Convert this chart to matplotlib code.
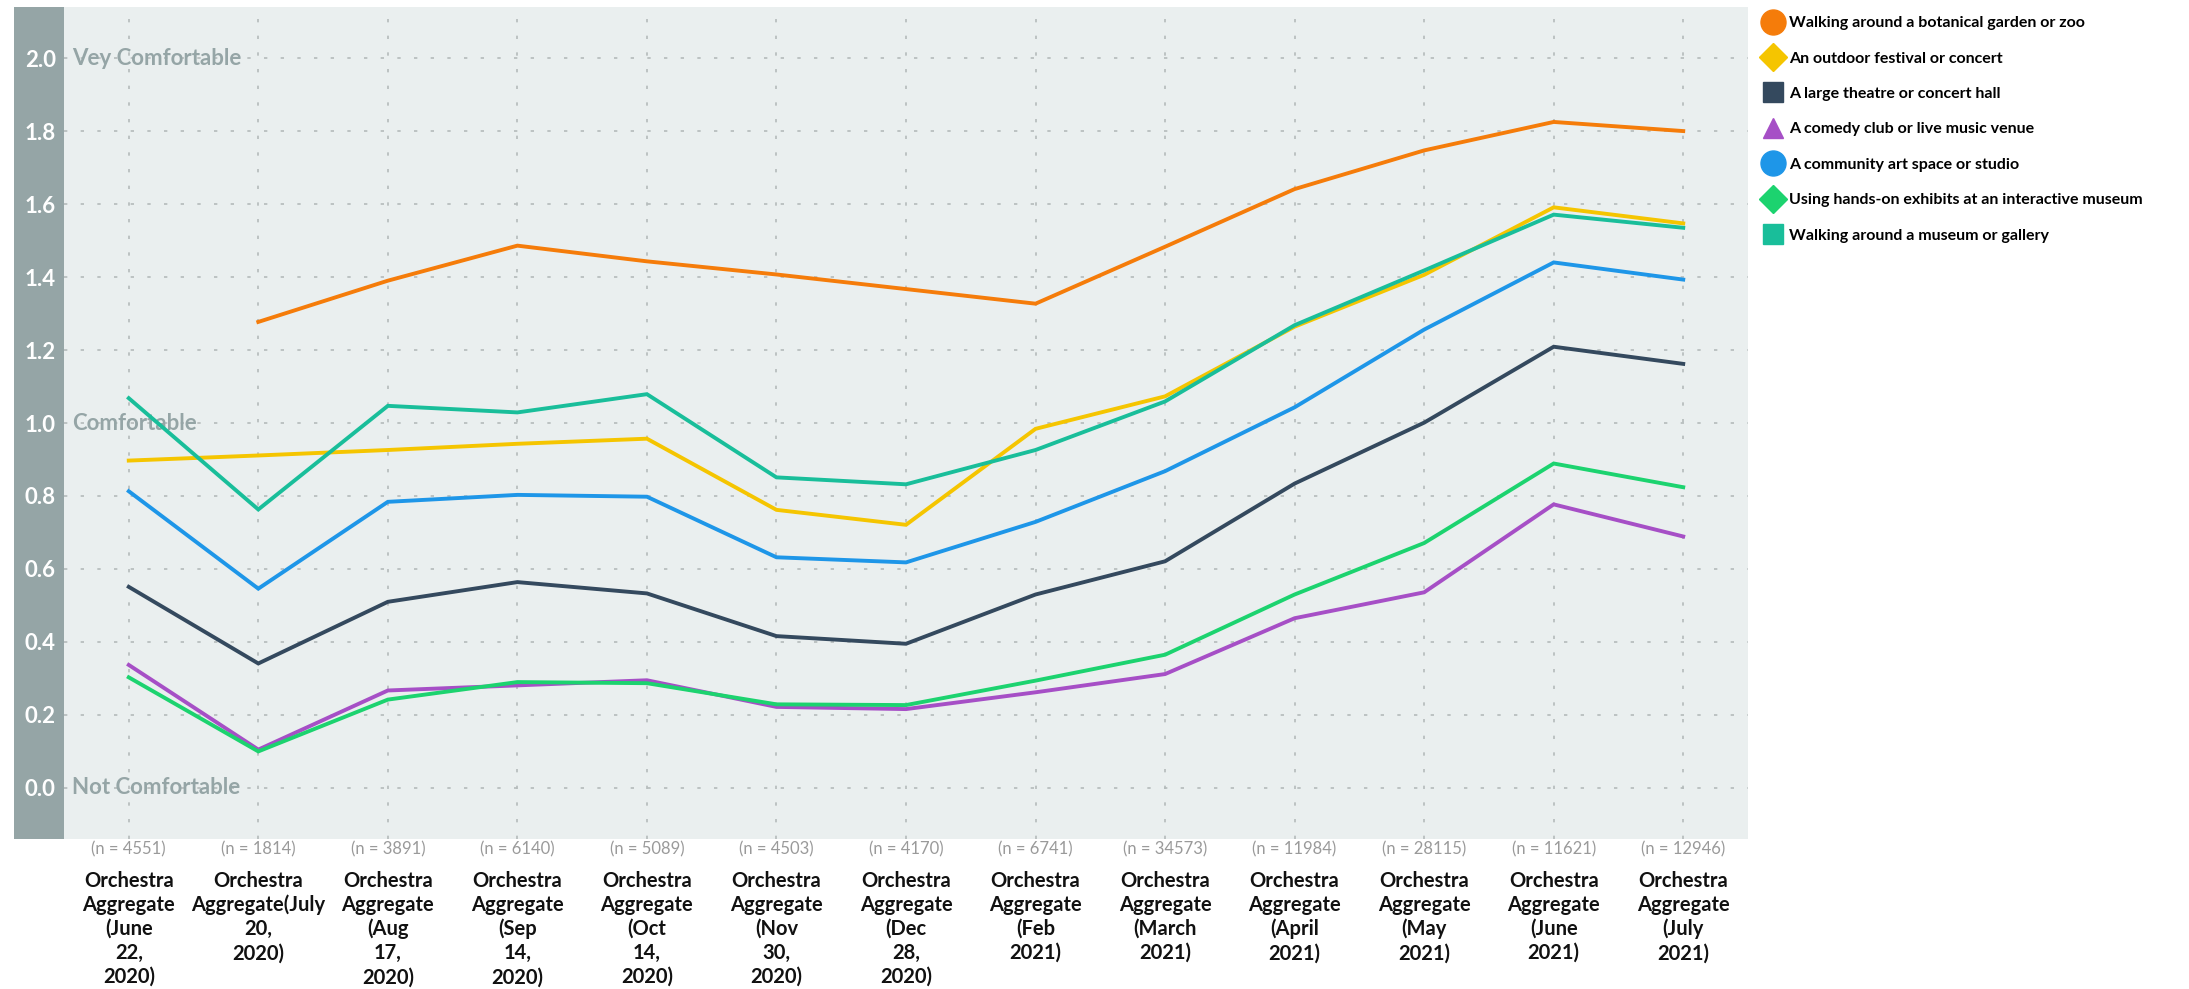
import matplotlib
matplotlib.use("Agg")
import matplotlib.pyplot as plt
from matplotlib.lines import Line2D
from matplotlib.patches import Rectangle
import matplotlib.transforms as mtrans
import numpy as np

plt.rcParams['font.family'] = ['Lato', 'DejaVu Sans']

# x categories
periods = ["Orchestra\nAggregate\n(June\n22,\n2020)", "Orchestra\nAggregate(July\n20,\n2020)",
           "Orchestra\nAggregate\n(Aug\n17,\n2020)", "Orchestra\nAggregate\n(Sep\n14,\n2020)",
           "Orchestra\nAggregate\n(Oct\n14,\n2020)", "Orchestra\nAggregate\n(Nov\n30,\n2020)",
           "Orchestra\nAggregate\n(Dec\n28,\n2020)", "Orchestra\nAggregate\n(Feb\n2021)",
           "Orchestra\nAggregate\n(March\n2021)", "Orchestra\nAggregate\n(April\n2021)",
           "Orchestra\nAggregate\n(May\n2021)", "Orchestra\nAggregate\n(June\n2021)",
           "Orchestra\nAggregate\n(July\n2021)"]
n_sizes = [4551, 1814, 3891, 6140, 5089, 4503, 4170, 6741, 34573, 11984, 28115, 11621, 12946]

# series (None = no data)
botanical = [None, 1.277, 1.39, 1.486, 1.443, 1.407, 1.367, 1.327, 1.483, 1.641, 1.747, 1.825, 1.80]
outdoor = [0.897, 0.911, 0.926, 0.943, 0.957, 0.762, 0.721, 0.984, 1.073, 1.264, 1.406, 1.591, 1.547]
theatre = [0.551, 0.341, 0.510, 0.564, 0.533, 0.416, 0.395, 0.530, 0.621, 0.834, 1.001, 1.209, 1.162]
comedy = [0.337, 0.105, 0.267, 0.281, 0.295, 0.222, 0.216, 0.262, 0.312, 0.465, 0.536, 0.777, 0.689]
community = [0.813, 0.546, 0.784, 0.803, 0.798, 0.632, 0.618, 0.729, 0.868, 1.043, 1.256, 1.440, 1.393]
handson = [0.303, 0.100, 0.242, 0.290, 0.287, 0.229, 0.227, 0.294, 0.365, 0.530, 0.671, 0.889, 0.824]
museum = [1.068, 0.763, 1.047, 1.029, 1.079, 0.851, 0.832, 0.926, 1.059, 1.268, 1.418, 1.571, 1.535]

series_names = ["Walking around a botanical garden or zoo", "An outdoor festival or concert",
                "A large theatre or concert hall", "A comedy club or live music venue",
                "A community art space or studio", "Using hands-on exhibits at an interactive museum",
                "Walking around a museum or gallery"]
series_vals = [botanical, outdoor, theatre, comedy, community, handson, museum]
colors = ['#F57C0A', '#F5C500', '#34495E', '#A64FC6', '#1E96E8', '#1CD36F', '#19BE9A']
markers = ['o', 'D', 's', '^', 'o', 'D', 's']
msizes = [18, 14, 14, 15, 18, 14, 14]

levels = [(2.0, 'Vey Comfortable'), (1.0, 'Comfortable'), (0.0, 'Not Comfortable')]

W, H = 2189, 989
fig = plt.figure(figsize=(W / 100, H / 100), dpi=100)
ax = fig.add_axes([64 / W, 1 - 839 / H, (1748 - 64) / W, (839 - 7) / H])
ax.set_facecolor('#EAEFEF')

# grey strip behind the y labels
fig.patches.append(Rectangle((14 / W, 1 - 839 / H), 50 / W, 832 / H, transform=fig.transFigure,
                             facecolor='#95A5A6', edgecolor='none', zorder=-1))

x = np.arange(len(periods))
for vals, c in zip(series_vals, colors):
    y = np.array([np.nan if v is None else v for v in vals])
    ax.plot(x, y, color=c, lw=2.8, solid_joinstyle='miter', zorder=3)

ax.set_xlim(-0.5, len(periods) - 0.5)
ax.set_ylim(-0.14, 2.14)
ax.set_yticks(np.arange(0, 2.01, 0.2))
ax.set_yticklabels(['%.1f' % v for v in np.arange(0, 2.01, 0.2)], color='white',
                   fontsize=16, fontweight='bold')
ax.set_xticks(x)
ax.set_xticklabels(['(n = %d)' % n for n in n_sizes], color='#9A9A9A', fontsize=12)
ax.tick_params(axis='both', length=0)
ax.tick_params(axis='y', pad=6)
ax.tick_params(axis='x', pad=2)
ax.grid(True, color='#B4BBBB', linestyle=(0, (2, 8)), lw=1.2)
ax.set_axisbelow(True)
for s in ax.spines.values():
    s.set_visible(False)

for yv, txt in levels:
    ax.text(0.005, yv, txt, transform=mtrans.blended_transform_factory(ax.transAxes, ax.transData),
            ha='left', va='center', fontsize=16, fontweight='bold', color='#95A5A6', zorder=2)

# category labels under the n labels
for i, lab in enumerate(periods):
    ax.text(i, -0.038, lab, transform=ax.get_xaxis_transform(), ha='center', va='top',
            fontsize=14.5, fontweight='bold', color='#111111', linespacing=1.25)

handles = [Line2D([], [], color=c, marker=m, markersize=ms, linestyle='none')
           for c, m, ms in zip(colors, markers, msizes)]
fig.legend(handles, series_names, loc='upper left', bbox_to_anchor=(1763 / W, 1 - 16 / H),
           frameon=False, borderpad=0, borderaxespad=0, handlelength=1.2, handletextpad=0.45,
           labelspacing=1.33, prop={'weight': 'bold', 'size': 11.5})

fig.savefig('out.png', dpi=100)
